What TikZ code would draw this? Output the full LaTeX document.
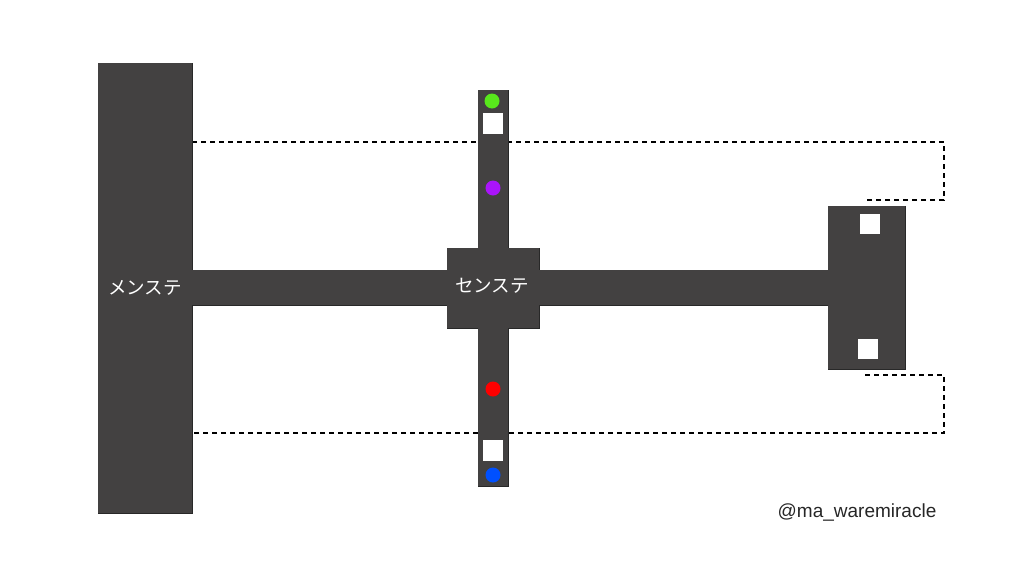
\documentclass[tikz,border=0pt]{standalone}
\usepackage{fontspec}
\setmainfont{Liberation Sans}
\newfontfamily\jpfont{Noto Sans CJK JP}
\definecolor{stagegray}{RGB}{67,65,65}
\definecolor{edgegray}{RGB}{40,40,40}
\definecolor{mkgreen}{RGB}{88,232,28}
\definecolor{mkpurple}{RGB}{170,20,250}
\definecolor{mkred}{RGB}{255,0,0}
\definecolor{mkblue}{RGB}{0,80,255}

\begin{document}
\begin{tikzpicture}[x=1pt,y=-1pt,
	stage/.style={fill=stagegray, draw=edgegray, line width=0.8pt},
	inner/.style={fill=stagegray},
	spot/.style={fill=white},
	marker/.style={circle, fill=#1, minimum size=15pt, inner sep=0pt},
	walk/.style={line width=1.4pt, dash pattern=on 5pt off 4pt},
	label/.style={text=white, font=\jpfont\fontsize{18.5}{22}\selectfont}]
\useasboundingbox (0,0) rectangle (1024,576);
% dashed routes
\draw[walk] (192,142) -- (944,142) -- (944,200) -- (865,200);
\draw[walk] (865,375) -- (944,375) -- (944,433) -- (192,433);
% stage outline, then fill again to hide inner edges
\foreach \st in {stage, inner} {
	\path[\st] (98,63) rectangle (192,513);
	\path[\st] (190,270) rectangle (830,305);
	\path[\st] (478,90) rectangle (508,486);
	\path[\st] (447,248) rectangle (539,328);
	\path[\st] (828,206) rectangle (905,369);
}
% white squares
\path[spot] (483,113) rectangle (503,134);
\path[spot] (483,440) rectangle (503,461);
\path[spot] (860,214) rectangle (880,234);
\path[spot] (858,339) rectangle (878,359);
% markers
\node[marker=mkgreen] (green) at (492,101) {};
\node[marker=mkpurple] (purple) at (493,188) {};
\node[marker=mkred] (red) at (493,389) {};
\node[marker=mkblue] (blue) at (493,475) {};
% labels
\node[label] (main) at (145,288) {メンステ};
\node[label] (center) at (492,286) {センステ};
\node[font=\fontsize{19}{22}\selectfont, text=black!85] (handle) at (857,512) {@ma\_waremiracle};
\end{tikzpicture}
\end{document}
